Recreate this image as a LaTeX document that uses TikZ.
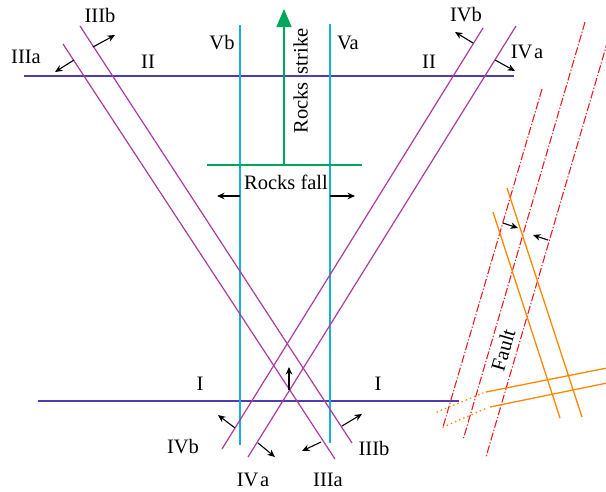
\documentclass[tikz,border=0pt]{standalone}
\usepackage{fontspec}
\setmainfont{Liberation Serif}
\usetikzlibrary{arrows.meta}
\definecolor{setblue}{RGB}{80,60,170}
\definecolor{setmag}{RGB}{170,60,160}
\definecolor{setcyan}{RGB}{20,175,230}
\definecolor{setgreen}{RGB}{0,166,90}
\definecolor{setorange}{RGB}{255,135,0}
\definecolor{setred}{RGB}{232,30,36}
\begin{document}
\begin{tikzpicture}[x=1pt,y=-1pt,
  lbl/.style={inner sep=0pt, font=\fontsize{20.5}{24}\selectfont},
  bluejoint/.style={setblue, line width=1.3pt},
  magjoint/.style={setmag, line width=1.2pt},
  cyanjoint/.style={setcyan, line width=1.2pt},
  greenline/.style={setgreen, line width=1.2pt},
  orangeline/.style={setorange, line width=1.3pt},
  orangedot/.style={setorange, line width=1.5pt, line cap=round, dash pattern=on 0.5pt off 4pt},
  faultline/.style={setred, line width=1.1pt, dash pattern=on 8pt off 2pt on 1.2pt off 2pt},
  arr/.style={black, line width=1.1pt, -{Stealth[length=7.5pt,width=6.5pt]}}]
\useasboundingbox (0,0) rectangle (606,491);
% joint set II and I
\coordinate (IIl) at (24,76); \coordinate (IIr) at (514,76);
\coordinate (Il) at (38,401); \coordinate (Ir) at (459,401);
\draw[bluejoint] (IIl) -- (IIr);
\draw[bluejoint] (Il) -- (Ir);
% V joints
\coordinate (Vbt) at (240,25); \coordinate (Vbb) at (240,445);
\coordinate (Vat) at (330,24); \coordinate (Vab) at (330,443);
\draw[cyanjoint] (Vbt) -- (Vbb);
\draw[cyanjoint] (Vat) -- (Vab);
% III joints
\coordinate (IIIat) at (63,44); \coordinate (IIIab) at (335,459);
\coordinate (IIIbt) at (80,26); \coordinate (IIIbb) at (352,443);
\draw[magjoint] (IIIat) -- (IIIab);
\draw[magjoint] (IIIbt) -- (IIIbb);
% IV joints
\coordinate (IVbt) at (483,28); \coordinate (IVbb) at (222,449);
\coordinate (IVat) at (516,26); \coordinate (IVab) at (248,457);
\draw[magjoint] (IVbt) -- (IVbb);
\draw[magjoint] (IVat) -- (IVab);
% green: rocks fall / strike
\coordinate (gl) at (207,165); \coordinate (gr) at (362,165);
\coordinate (gs) at (284,165); \coordinate (gt) at (284,9);
\draw[greenline] (gl) -- (gr);
\draw[greenline, -{Triangle[length=18pt,width=15pt]}] (gs) -- (gt);
\node[lbl, rotate=90] (strike) at (300.5,81) {Rocks\hspace{8pt}strike};
\node[lbl] (fall) at (286,182) {Rocks fall};
% faults
\coordinate (F1t) at (542,89);  \coordinate (F1b) at (443,427);
\coordinate (F2t) at (585,22);  \coordinate (F2b) at (463,440);
\coordinate (F3t) at (608,40);  \coordinate (F3b) at (486,457);
\draw[faultline] (F1t) -- (F1b);
\draw[faultline] (F2t) -- (F2b);
\draw[faultline] (F3t) -- (F3b);
\node[lbl, rotate=73.7] (fault) at (503,350) {Fault};
% orange
\coordinate (O1t) at (493,212); \coordinate (O1b) at (560,418);
\coordinate (O2t) at (507,188); \coordinate (O2b) at (582,417);
\coordinate (O3a) at (437,412); \coordinate (O3b) at (483,393);
\coordinate (O3c) at (486,392); \coordinate (O3d) at (612,367);
\coordinate (O4a) at (443,427); \coordinate (O4b) at (487,408);
\coordinate (O4c) at (490,407); \coordinate (O4d) at (612,382);
\draw[orangeline] (O1t) -- (O1b);
\draw[orangeline] (O2t) -- (O2b);
\draw[orangeline] (O3c) -- (O3d);
\draw[orangeline] (O4c) -- (O4d);
\draw[orangedot] (O3a) -- (O3b);
\draw[orangedot] (O4a) -- (O4b);
% arrows
\coordinate (a1s) at (74,60);   \coordinate (a1e) at (55,72);
\coordinate (a2s) at (93,47);   \coordinate (a2e) at (115,35);
\coordinate (a3s) at (473,43);  \coordinate (a3e) at (455,32);
\coordinate (a4s) at (495,60);  \coordinate (a4e) at (515,71);
\coordinate (a5s) at (235,428); \coordinate (a5e) at (218,415);
\coordinate (a6s) at (258,443); \coordinate (a6e) at (275,457);
\coordinate (a7s) at (321,442); \coordinate (a7e) at (302,451);
\coordinate (a8s) at (342,426); \coordinate (a8e) at (362,414);
\coordinate (a9s) at (289,390); \coordinate (a9e) at (289,367);
\coordinate (a10s) at (240,196); \coordinate (a10e) at (217,196);
\coordinate (a11s) at (330,196); \coordinate (a11e) at (355,196);
\coordinate (a12s) at (503,223); \coordinate (a12e) at (518,228);
\coordinate (a13s) at (548,240); \coordinate (a13e) at (533,235);
\foreach \s/\e in {a1s/a1e,a2s/a2e,a3s/a3e,a4s/a4e,a5s/a5e,a6s/a6e,a7s/a7e,a8s/a8e,a9s/a9e,a10s/a10e,a11s/a11e,a12s/a12e,a13s/a13e}
  \draw[arr] (\s) -- (\e);
% labels
\node[lbl] (tIIIa) at (26,57) {IIIa};
\node[lbl] (tIIIb) at (100,15) {IIIb};
\node[lbl] (tIIl) at (148,62) {II};
\node[lbl] (tVb) at (222,43) {Vb};
\node[lbl] (tVa) at (348,43) {Va};
\node[lbl] (tIIr) at (429,62) {II};
\node[lbl] (tIVbt) at (466,15) {IVb};
\node[lbl] (tIVat) at (527,52) {IV\kern1.5pt a};
\node[lbl] (tIl) at (200,384) {I};
\node[lbl] (tIr) at (378,384) {I};
\node[lbl] (tIVbb) at (183,447) {IVb};
\node[lbl] (tIVab) at (253,480) {IV\kern1.5pt a};
\node[lbl] (tIIIab) at (328,480) {IIIa};
\node[lbl] (tIIIbb) at (374,448) {IIIb};
\end{tikzpicture}
\end{document}
